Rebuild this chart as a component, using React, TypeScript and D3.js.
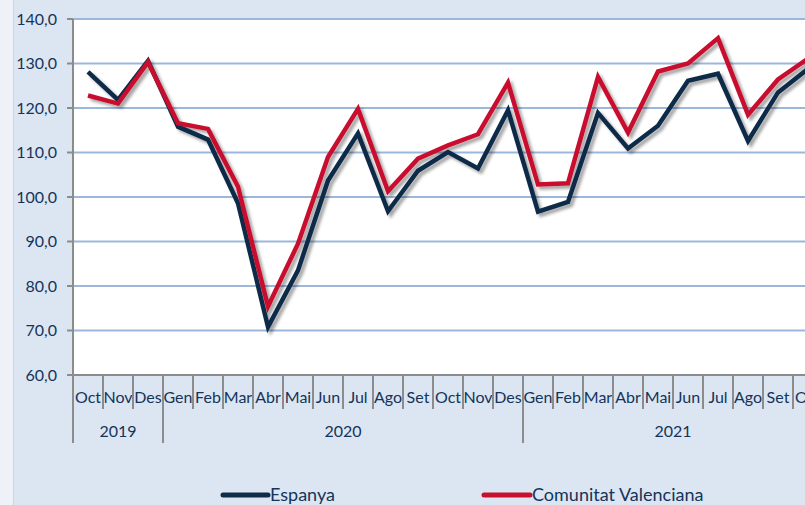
import React from 'react';
import * as d3 from 'd3';

// monthly labels (Catalan), Oct 2019 - Oct 2021
const months = ['Oct', 'Nov', 'Des', 'Gen', 'Feb', 'Mar', 'Abr', 'Mai', 'Jun', 'Jul', 'Ago', 'Set', 'Oct', 'Nov', 'Des',
  'Gen', 'Feb', 'Mar', 'Abr', 'Mai', 'Jun', 'Jul', 'Ago', 'Set', 'Oct'];
const years = [
  { label: '2019', start: 0, end: 3 },
  { label: '2020', start: 3, end: 15 },
  { label: '2021', start: 15, end: 25 },
];
const espanya = [128.1, 121.8, 130.6, 115.8, 112.9, 98.6, 70.8, 83.5, 103.7, 114.3, 96.8, 105.9, 110.1, 106.4, 119.5,
  96.7, 98.9, 118.9, 110.9, 116.0, 126.1, 127.7, 112.6, 123.5, 128.8];
const valenciana = [122.8, 121.0, 130.3, 116.6, 115.3, 102.3, 75.4, 89.5, 109.0, 119.8, 101.3, 108.6, 111.6, 114.1, 125.7,
  102.8, 103.1, 127.0, 114.5, 128.2, 130.0, 135.7, 118.5, 126.4, 131.1];
const yTicks = [60, 70, 80, 90, 100, 110, 120, 130, 140];

const NAVY = '#0f2b48';
const RED = '#c8102e';
const TEXT = '#14345a';
const FONT = 'Lato, "Open Sans", sans-serif';

export default function App() {
  const width = 805;
  const height = 505;
  const left = 73;
  const top = 19;
  const bottom = 375;
  const step = 30;

  const x = d3.scaleBand<number>()
    .domain(months.map((_, i) => i))
    .range([left, left + step * months.length]);
  const y = d3.scaleLinear().domain([60, 140]).range([bottom, top]);

  const cx = (i: number) => (x(i) as number) + x.bandwidth() / 2;
  const line = d3.line<number>().x((_, i) => cx(i)).y(d => y(d));
  const fmt = (v: number) => v.toFixed(1).replace('.', ',');

  return (
    <svg width={width} height={height} style={{ position: 'absolute', left: 0, top: 0 }}>
      <defs>
        <filter id="shadow" x="-10%" y="-10%" width="120%" height="130%">
          <feDropShadow dx="3" dy="3" stdDeviation="1.6" floodColor="#000" floodOpacity="0.35" />
        </filter>
      </defs>
      <rect width={width} height={height} fill="#dce6f2" />
      <rect width={13} height={height} fill="#eef2f8" />
      <line x1={13.5} x2={13.5} y1={0} y2={height} stroke="#cfd6df" />
      <rect x={left} y={top} width={width - left} height={bottom - top} fill="#fff" />

      {/* gridlines + y axis */}
      {yTicks.map(t => (
        <g key={t}>
          {t > 60 && <line x1={left} x2={width} y1={y(t)} y2={y(t)} stroke="#9bb7dc" strokeWidth={2} />}
          <line x1={left - 6} x2={left} y1={y(t)} y2={y(t)} stroke="#8c8c8c" strokeWidth={2} />
          <text x={left - 16} y={y(t)} dy="0.35em" textAnchor="end" fontFamily={FONT} fontSize={16} fill={TEXT}>
            {fmt(t)}
          </text>
        </g>
      ))}
      <line x1={left} x2={left} y1={top} y2={bottom} stroke="#8c8c8c" strokeWidth={2} />

      {/* category axis */}
      <line x1={left} x2={width} y1={bottom} y2={bottom} stroke="#8c8c8c" strokeWidth={2} />
      {months.map((m, i) => (
        <g key={i}>
          <line x1={x(i)} x2={x(i)} y1={bottom} y2={bottom + 34} stroke="#8c8c8c" strokeWidth={2} />
          <text x={cx(i)} y={403} textAnchor="middle" fontFamily={FONT} fontSize={16} fill={TEXT}>{m}</text>
        </g>
      ))}
      {years.map(yr => {
        const x0 = x(yr.start) as number;
        const x1 = (x(yr.end - 1) as number) + x.bandwidth();
        return (
          <g key={yr.label}>
            <line x1={x0} x2={x0} y1={bottom} y2={443} stroke="#8c8c8c" strokeWidth={2} />
            <text x={(x0 + x1) / 2} y={437} textAnchor="middle" fontFamily={FONT} fontSize={16} fill={TEXT}>{yr.label}</text>
          </g>
        );
      })}

      {/* series */}
      <g filter="url(#shadow)">
        <path d={line(espanya) ?? ''} fill="none" stroke={NAVY} strokeWidth={4.5} strokeLinejoin="miter" />
        <path d={line(valenciana) ?? ''} fill="none" stroke={RED} strokeWidth={4.5} strokeLinejoin="miter" />
      </g>

      {/* legend */}
      <line x1={223} x2={268} y1={495} y2={495} stroke={NAVY} strokeWidth={5} strokeLinecap="round" />
      <text x={270} y={495} dy="0.35em" fontFamily={FONT} fontSize={18} fill={TEXT}>Espanya</text>
      <line x1={484} x2={530} y1={495} y2={495} stroke={RED} strokeWidth={5} strokeLinecap="round" />
      <text x={532} y={495} dy="0.35em" fontFamily={FONT} fontSize={18} fill={TEXT}>Comunitat Valenciana</text>
    </svg>
  );
}
